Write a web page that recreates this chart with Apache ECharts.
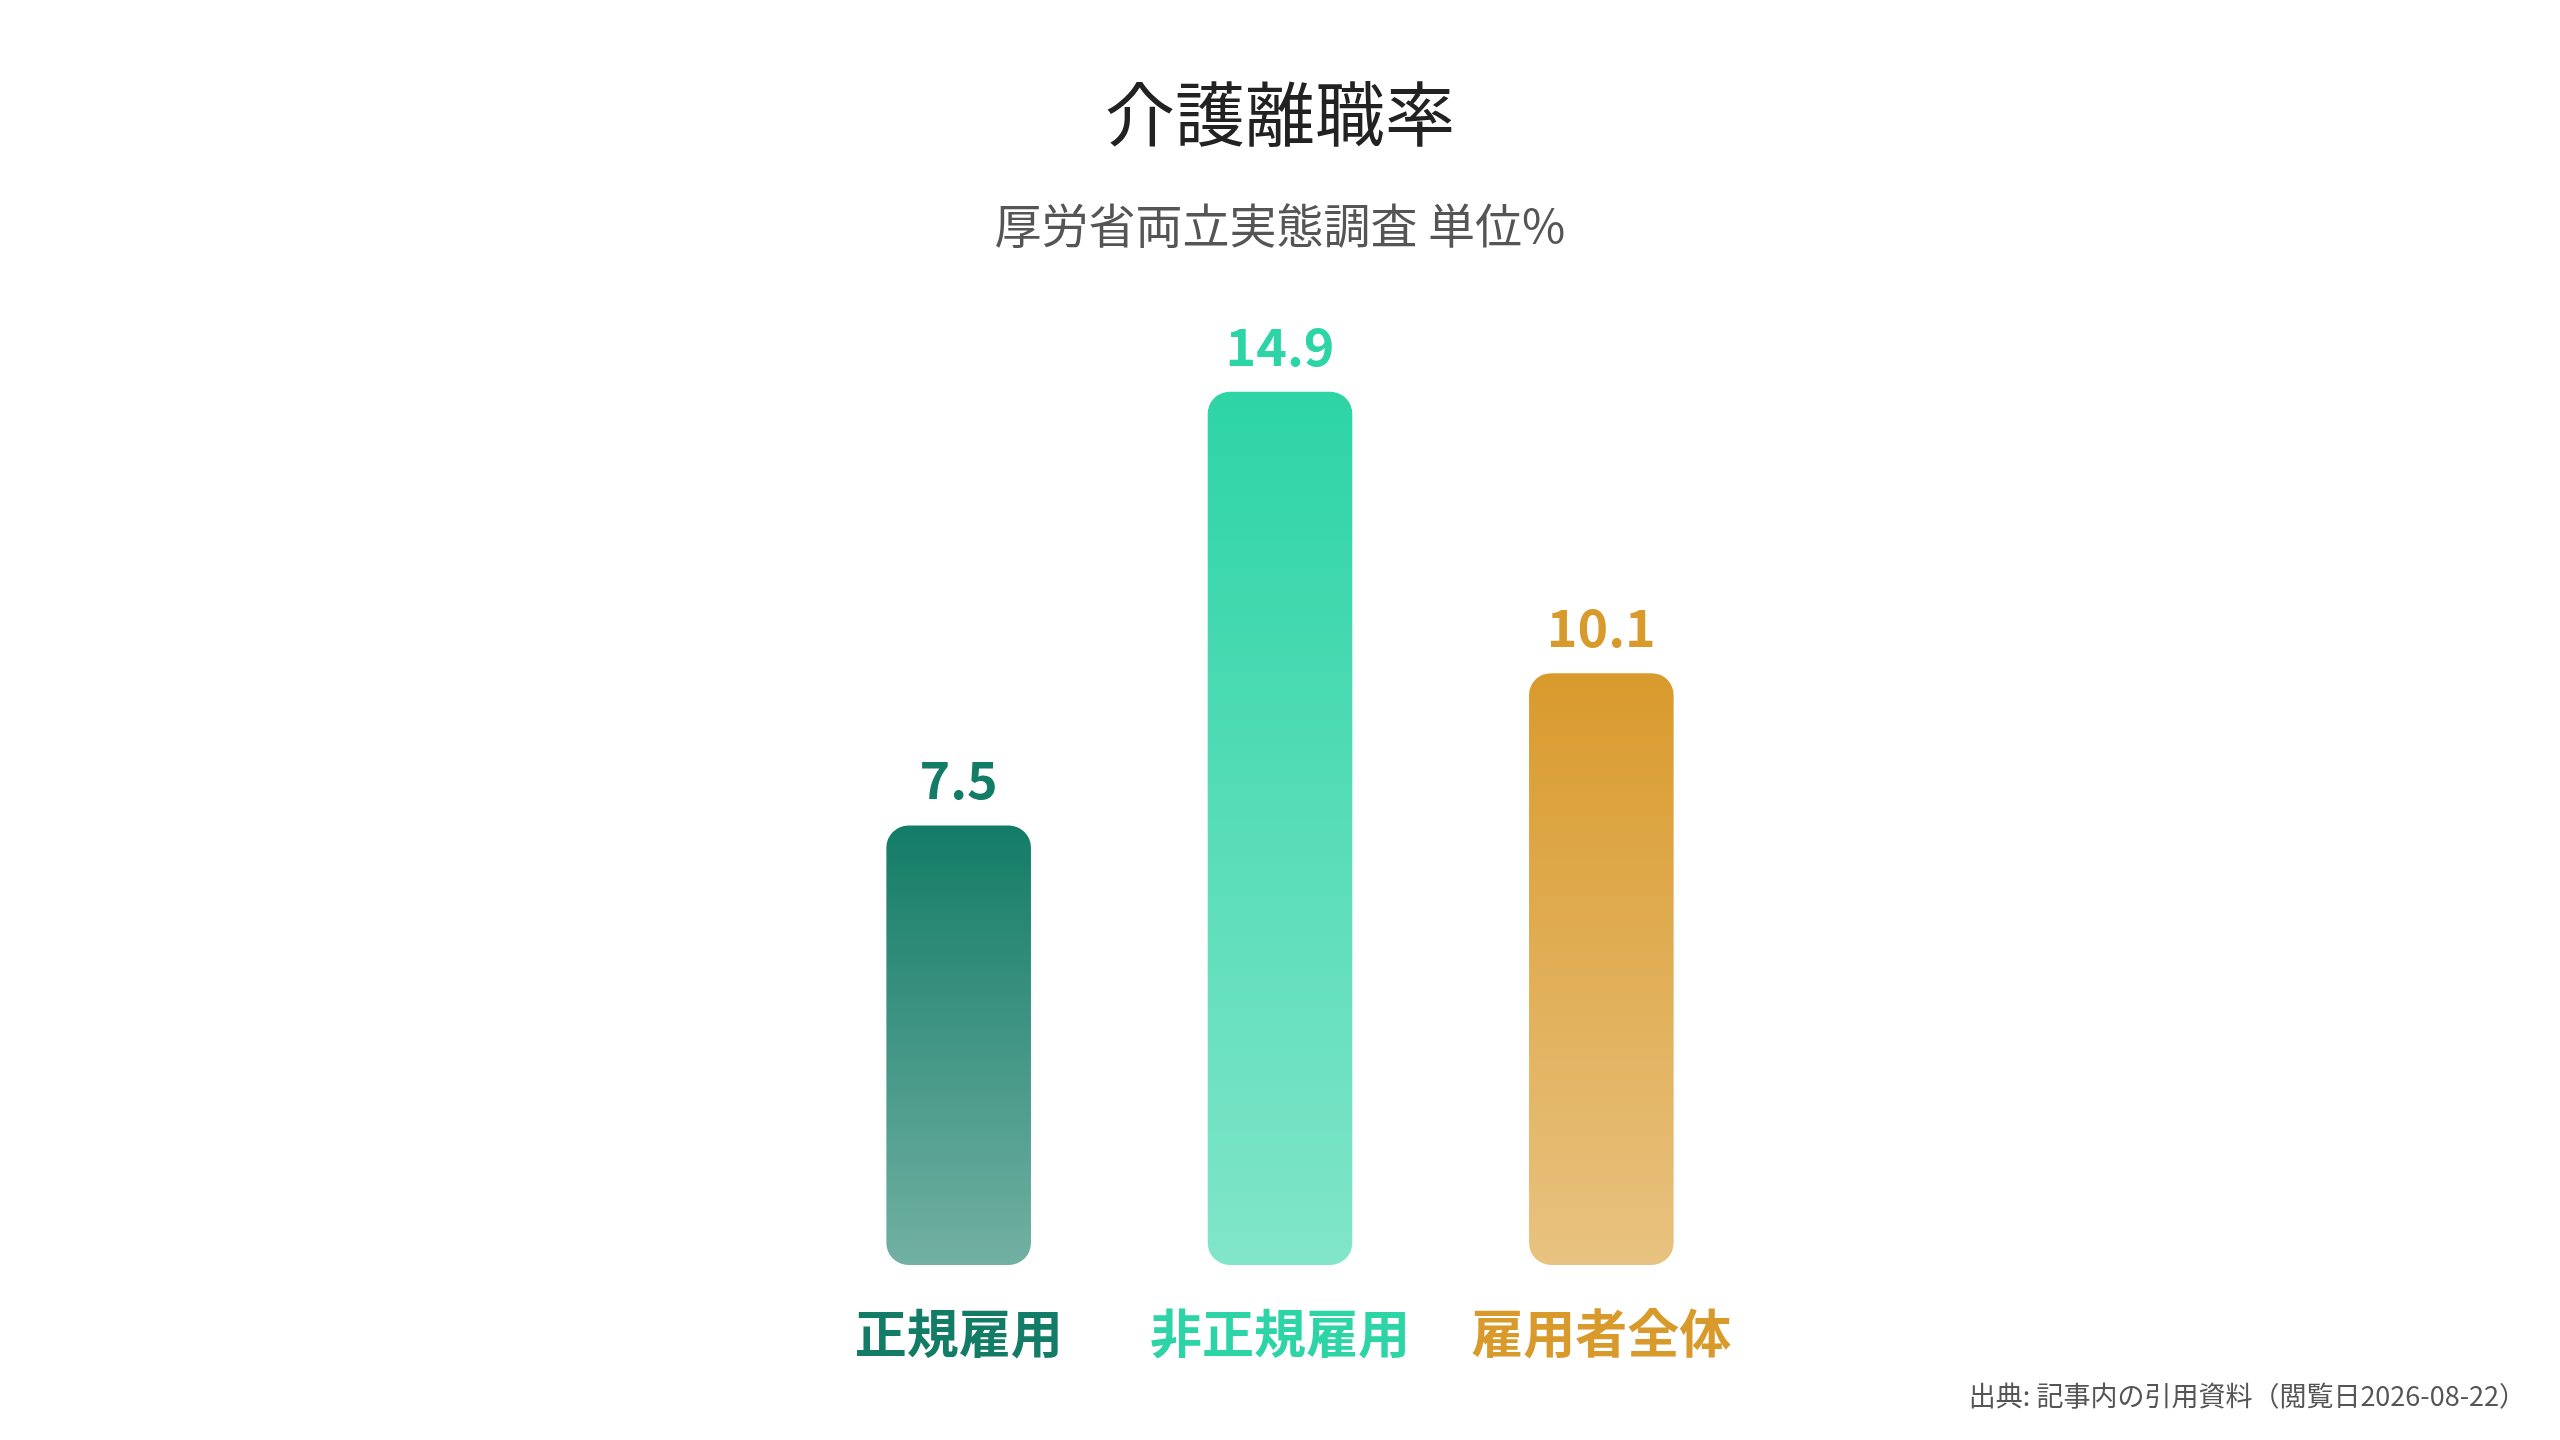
<!DOCTYPE html>
<html>
<head>
<meta charset="utf-8">
<script src="https://cdn.jsdelivr.net/npm/echarts@6/dist/echarts.min.js"></script>
<style>
  html, body { margin: 0; padding: 0; background: #fff; }
  #chart { width: 2560px; height: 1440px; }
</style>
</head>
<body>
<div id="chart"></div>
<script>
var categories = ['正規雇用', '非正規雇用', '雇用者全体'];
var values = [7.5, 14.9, 10.1];
var colors = ['#137c66', '#2dd4a6', '#d99a2c'];
var fadeColors = ['rgba(19,124,102,0.6)', 'rgba(45,212,166,0.6)', 'rgba(217,154,44,0.6)'];

var font = '"Noto Sans CJK JP", "Noto Sans", sans-serif';

function render() {
  var myChart = echarts.init(document.getElementById('chart'));

  // 軸ラベルの色はカテゴリごとに rich で指定
  var rich = {};
  colors.forEach(function (c, i) {
    rich['c' + i] = { color: c, fontSize: 52, fontWeight: 'bold', fontFamily: font };
  });

  var option = {
    backgroundColor: '#ffffff',
    textStyle: { fontFamily: font },
    title: [
      {
        text: '介護離職率',
        left: 'center',
        top: 74,
        textStyle: { fontSize: 70, fontWeight: 'normal', color: '#222222', fontFamily: font }
      },
      {
        text: '厚労省両立実態調査 単位%',
        left: 'center',
        top: 197,
        textStyle: { fontSize: 47, fontWeight: 'normal', color: '#555555', fontFamily: font }
      },
      {
        text: '出典: 記事内の引用資料（閲覧日2026-08-22）',
        right: 29,
        bottom: 26,
        textStyle: { fontSize: 27, fontWeight: 'normal', color: '#555555', fontFamily: font }
      }
    ],
    grid: { left: 798, right: 798, top: 386, bottom: 175 },
    xAxis: {
      type: 'category',
      data: categories,
      axisLine: { show: false },
      axisTick: { show: false },
      axisLabel: {
        interval: 0,
        margin: 42,
        formatter: function (value, index) {
          return '{c' + index + '|' + value + '}';
        },
        rich: rich
      }
    },
    yAxis: {
      type: 'value',
      min: 0,
      max: 15,
      show: false,
      splitLine: { show: false }
    },
    series: [{
      type: 'bar',
      barWidth: '45%',
      data: values.map(function (v, i) {
        return {
          value: v,
          itemStyle: {
            borderRadius: 22,
            color: new echarts.graphic.LinearGradient(0, 0, 0, 1, [
              { offset: 0, color: colors[i] },
              { offset: 1, color: fadeColors[i] }
            ])
          },
          label: { color: colors[i] }
        };
      }),
      label: {
        show: true,
        position: 'top',
        distance: 20,
        fontSize: 52,
        fontWeight: 'bold',
        fontFamily: font
      }
    }]
  };
  myChart.setOption(option);
}
render();
</script>
</body>
</html>
